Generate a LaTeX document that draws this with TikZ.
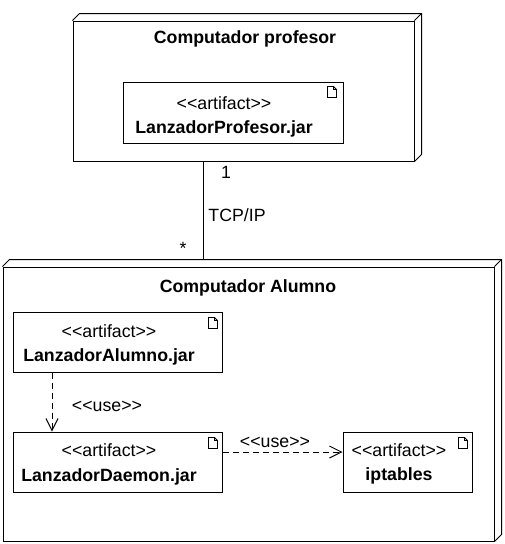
\documentclass[tikz,border=0pt]{standalone}
\usepackage{fontspec}
\setmainfont{Liberation Sans}
\usetikzlibrary{positioning,arrows.meta}

\newcommand{\uml}[1]{<{}<#1>{}>}

\begin{document}
\begin{tikzpicture}[x=0.75pt,y=-0.75pt,
  font=\fontsize{13.3}{18.5}\selectfont,
  line width=0.75pt,
  devnode/.style={rectangle,draw,inner sep=0pt},
  artifact/.style={rectangle,draw,inner sep=0pt},
  artext/.style={align=center,inner sep=0pt},
  usedep/.style={dash pattern=on 4.5pt off 3pt,-{Straight Barb[length=9pt,width=9pt]}},
  docicon/.pic={\draw[line width=0.6pt] (0,0) -- (6,0) -- (9,3) -- (9,11) -- (0,11) -- cycle
    (6,0) -- (6,3) -- (9,3);}]
\useasboundingbox (0,0) rectangle (505,544);
% Nodes
\node[devnode,minimum width=255.75pt,minimum height=105pt] (profNode) at (243.5,91) {};
\draw (profNode.north west) -- ++(7,-7) -- ([shift={(7,-7)}]profNode.north east)
  -- ([shift={(7,-7)}]profNode.south east) -- (profNode.south east);
\draw (profNode.north east) -- ++(7,-7);
\node[font=\fontsize{13.3}{16}\selectfont\bfseries] (profTitle) at (245,39) {Computador profesor};

\node[devnode,minimum width=368.25pt,minimum height=205.5pt] (alumnoNode) at (248.5,404) {};
\draw (alumnoNode.north west) -- ++(7,-7) -- ([shift={(7,-7)}]alumnoNode.north east)
  -- ([shift={(7,-7)}]alumnoNode.south east) -- (alumnoNode.south east);
\draw (alumnoNode.north east) -- ++(7,-7);
\node[font=\fontsize{13.3}{16}\selectfont\bfseries] (alumnoTitle) at (248,288) {Computador Alumno};
% Artifacts
\node[artifact,minimum width=165pt,minimum height=45.75pt] (profJar) at (233,112.5) {};
\node[artext] (profTxt) at (224,117) {\uml{artifact}\\\textbf{LanzadorProfesor.jar}};
\pic at ([shift={(-16,5)}]profJar.north east) {docicon};

\node[artifact,minimum width=156.75pt,minimum height=45pt] (alumnoJar) at (117.5,342) {};
\node[artext] (alumnoTxt) at (109,345) {\uml{artifact}\\\textbf{LanzadorAlumno.jar}};
\pic at ([shift={(-14,6)}]alumnoJar.north east) {docicon};

\node[artifact,minimum width=156.75pt,minimum height=45pt] (daemonJar) at (117.5,462) {};
\node[artext] (daemonTxt) at (109,464.5) {\uml{artifact}\\\textbf{LanzadorDaemon.jar}};
\pic at ([shift={(-14,6)}]daemonJar.north east) {docicon};

\node[artifact,minimum width=96.75pt,minimum height=45pt] (iptablesJar) at (407.5,462) {};
\node[artext] (iptablesTxt) at (399,464) {\uml{artifact}\\\textbf{iptables}};
\pic at ([shift={(-14,6)}]iptablesJar.north east) {docicon};
% Connectors
\coordinate (linkBot) at (203,260);
\draw (profNode.south -| linkBot) -- (linkBot);
\node (multOne) at (226,172) {1};
\node (tcpLabel) at (237,215) {TCP/IP};
\node (multMany) at (183,248) {*};

\draw[usedep] ([shift={(39.5,0)}]alumnoJar.south west) -- ([shift={(39.5,0)}]daemonJar.north west);
\node (useOne) at (107,406) {\uml{use}};
\draw[usedep] ([shift={(0,-10)}]daemonJar.east) -- ([shift={(0,-10)}]iptablesJar.west);
\node (useTwo) at (275,442) {\uml{use}};
\end{tikzpicture}
\end{document}
